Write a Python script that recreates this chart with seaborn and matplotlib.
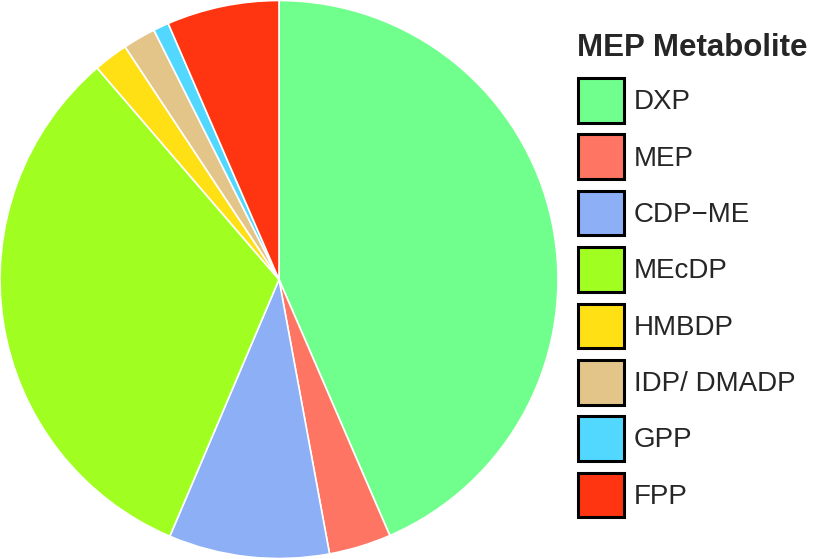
import matplotlib.pyplot as plt
import seaborn as sns
from matplotlib.patches import Patch

# data (share of each metabolite, %)
metabolites = ["DXP", "MEP", "CDP\u2212ME", "MEcDP", "HMBDP", "IDP/ DMADP", "GPP", "FPP"]
shares = [43.5, 3.6, 9.3, 32.3, 2.0, 1.9, 0.9, 6.5]
colors = ["#70FF8C", "#FF7563", "#8CAFF5", "#A0FF20", "#FFE014", "#E3C58A", "#52D8FF", "#FF3512"]

sns.set_theme(style="white")
plt.rcParams["font.family"] = ["Liberation Sans", "DejaVu Sans"]

fig = plt.figure(figsize=(8.14, 5.59), dpi=100)
ax = fig.add_axes([0, 0, 558 / 814, 1])

ax.pie(shares, colors=colors, startangle=90, counterclock=False,
       wedgeprops=dict(edgecolor="white", linewidth=1.2))
ax.set_aspect("equal")
ax.set_xlim(-1.0, 1.0)
ax.set_ylim(-1.0, 1.0)

# legend title drawn separately so the gap below it can be set freely
fig.text(577 / 814, 1 - 56 / 559, "MEP Metabolite", fontsize=22.5,
         fontweight="bold", ha="left", va="baseline")

handles = [Patch(facecolor=c, edgecolor="black", linewidth=2.2) for c in colors]
leg = fig.legend(handles, metabolites,
                 loc="upper left", bbox_to_anchor=(578 / 814, 1 - 78 / 559),
                 frameon=False, fontsize=20,
                 handlelength=1.65, handleheight=2.1, labelspacing=0.42,
                 handletextpad=0.36, borderpad=0, borderaxespad=0)

fig.savefig("out.png", dpi=100)
